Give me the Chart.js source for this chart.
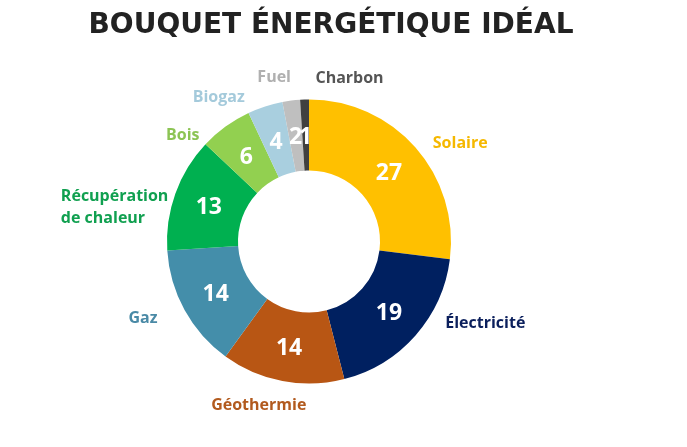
<!DOCTYPE html>
<html lang="fr">
<head>
    <meta charset="UTF-8">
    <title>Bouquet énergétique idéal</title>
    <script src="https://cdn.jsdelivr.net/npm/chart.js@4.4.1/dist/chart.umd.min.js"></script>
    <style>
        html, body { margin: 0; padding: 0; background: #fff; }
        #wrap { width: 687px; height: 447px; position: relative; }
    </style>
</head>
<body>
<div id="wrap">
    <canvas id="chart01"></canvas>
</div>

<script>
    // données du graphique
    var labelsdata = ["Solaire", "Électricité", "Géothermie", "Gaz", "Récupération de chaleur", "Bois", "Biogaz", "Fuel", "Charbon"];
    var parts = [27, 19, 14, 14, 13, 6, 4, 2, 1];
    var couleurs = ["#FFC000", "#002060", "#B85614", "#448EAA", "#00B050", "#92D050", "#A9CFDF", "#BFBFBF", "#404040"];
    var couleursTexte = ["#F5B800", "#0B1F5C", "#B25A1E", "#4A8AA6", "#10A050", "#8CC454", "#A4CADB", "#B0B0B0", "#555555"];
    var titre = "BOUQUET ÉNERGÉTIQUE IDÉAL";

    // placement des étiquettes : [angle en degrés depuis le haut, distance / rayon extérieur]
    var placement = [[57, 1.27], [115, 1.37], [197, 1.21], [245, 1.29], [280, 1.39], [310, 1.16], [328, 1.20], [348, 1.18], [14, 1.18]];

    /**
     * dessine le titre, les valeurs et les étiquettes
     */
    var etiquettes = {
        id: 'etiquettes',
        afterDatasetsDraw: function (chart) {
            var ctx = chart.ctx;
            var meta = chart.getDatasetMeta(0);
            var arc0 = meta.data[0];
            var cx = arc0.x, cy = arc0.y, rOut = arc0.outerRadius;
            ctx.save();
            ctx.textAlign = 'center';
            ctx.textBaseline = 'middle';

            // titre
            ctx.fillStyle = '#222222';
            ctx.font = 'bold 28px "DejaVu Sans"';
            ctx.fillText(titre, 331, 26);

            // valeurs dans les secteurs
            ctx.fillStyle = '#ffffff';
            ctx.font = 'bold 23px "Open Sans"';
            $each(meta.data, function (i, arc) {
                var mid = (arc.startAngle + arc.endAngle) / 2;
                var r = (arc.innerRadius + arc.outerRadius) / 2;
                ctx.fillText(String(parts[i]), arc.x + r * Math.cos(mid), arc.y + r * Math.sin(mid) + 2);
            });

            // étiquettes extérieures
            ctx.font = 'bold 16px "Open Sans"';
            $each(labelsdata, function (i, nom) {
                var a = placement[i][0] * Math.PI / 180;
                var d = placement[i][1] * rOut;
                var x = cx + d * Math.sin(a);
                var y = cy - d * Math.cos(a);
                ctx.fillStyle = couleursTexte[i];
                if (nom === "Récupération de chaleur") {
                    ctx.textAlign = 'left';
                    var w = ctx.measureText("Récupération").width;
                    ctx.fillText("Récupération", x - w / 2, y - 11);
                    ctx.fillText("de chaleur", x - w / 2, y + 11);
                    ctx.textAlign = 'center';
                } else {
                    ctx.fillText(nom, x, y);
                }
            });
            ctx.restore();
        }
    };

    function $each(arr, fn) {
        for (var i = 0; i < arr.length; i++) fn(i, arr[i]);
    }

    const data_01 = {
        labels: labelsdata,
        datasets: [{
            data: parts,
            backgroundColor: couleurs,
            borderWidth: 0
        }]
    };

    const chart_1 = new Chart(document.getElementById('chart01'), {
        type: 'doughnut',
        data: data_01,
        options: {
            responsive: true,
            maintainAspectRatio: false,
            animation: false,
            cutout: '50%',
            layout: {
                padding: { top: 99, bottom: 63, left: 167, right: 236 }
            },
            plugins: {
                legend: { display: false },
                title: { display: false },
                tooltip: { enabled: false }
            }
        },
        plugins: [etiquettes]
    });
</script>
</body>
</html>
